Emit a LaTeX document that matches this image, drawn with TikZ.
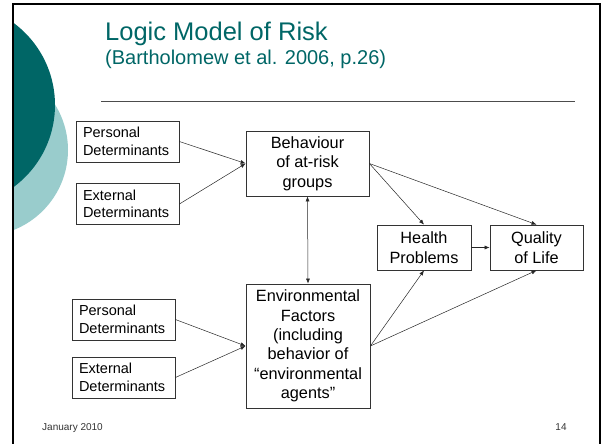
\documentclass[tikz,border=0pt]{standalone}
\usepackage{fontspec}
\setmainfont{Liberation Sans}
\usetikzlibrary{arrows.meta}
\definecolor{tealdark}{RGB}{0,102,102}
\definecolor{teallight}{RGB}{153,204,204}
\tikzset{
  detbox/.style={draw=black!80, line width=0.8pt, fill=white, align=left,
    text width=89pt, inner xsep=7pt, inner ysep=0pt, minimum height=41pt,
    font=\fontsize{14.5}{17.5}\selectfont},
  mainbox/.style={draw=black!80, line width=0.8pt, fill=white, align=center,
    inner sep=0pt, font=\fontsize{16.3}{19.4}\selectfont},
  link/.style={draw=black!85, line width=0.5pt, -{Latex[length=5pt,width=4pt]}},
}
\begin{document}
\begin{tikzpicture}[x=1pt,y=-1pt]
\useasboundingbox (0,0) rectangle (602,444);
\begin{scope} % slide decoration
\clip (13,0) rectangle (602,444);
\fill[teallight] (-18,150) circle (86pt);
\fill[tealdark] (-47,105) circle (102pt);
\end{scope}
\draw[line width=2pt] (13,444) -- (13,4) -- (600,4) -- (600,444);
% heading
\node[anchor=base west, inner sep=0pt, text=tealdark,
      font=\fontsize{25.5}{30}\selectfont] (title) at (105,41) {Logic Model of Risk};
\node[anchor=base west, inner sep=0pt, text=tealdark,
      font=\fontsize{20}{24}\selectfont] (source) at (105,65) {(Bartholomew et al. 2006, p.26)};
\draw[black!70, line width=0.8pt] (101,101) -- (575,101);
% boxes
\node[detbox] (perA) at (127.5,141.5) {Personal\\Determinants};
\node[detbox] (extA) at (127.5,204) {External\\Determinants};
\node[detbox] (perB) at (123.5,319.5) {Personal\\Determinants};
\node[detbox] (extB) at (123.5,377.5) {External\\Determinants};
\node[mainbox, minimum width=123pt, minimum height=65pt] (behav) at (307.5,163.5)
  {Behaviour\\of at-risk\\groups};
\node[mainbox, minimum width=124pt, minimum height=124pt] (envir) at (308,346)
  {Environmental\\Factors\\(including\\behavior of\\``environmental\\agents''};
\node[mainbox, minimum width=94pt, minimum height=45pt] (health) at (424,247.5)
  {Health\\Problems};
\node[mainbox, minimum width=93pt, minimum height=45pt] (life) at (536.5,247.5)
  {Quality\\of Life};
% arrows
\draw[link] (perA.east) -- (behav.west);
\draw[link] (extA.east) -- (behav.west);
\draw[link] (perB.east) -- (envir.west);
\draw[link] (extB.east) -- (envir.west);
\draw[link, {Latex[length=5pt,width=4pt]}-{Latex[length=5pt,width=4pt]}] (behav.south) -- (envir.north);
\draw[link] (behav.east) -- (health.north);
\draw[link] (behav.east) -- (life.north);
\draw[link] (envir.east) -- (health.south);
\draw[link] (envir.east) -- (life.south);
\draw[link] (health.east) -- (life.west);
% footer
\node[anchor=base west, inner sep=0pt, text=black!80,
      font=\fontsize{10}{12}\selectfont] (date) at (42,430) {January 2010};
\node[anchor=base, inner sep=0pt, text=black!80,
      font=\fontsize{10}{12}\selectfont] (page) at (561,430) {14};
\end{tikzpicture}
\end{document}
